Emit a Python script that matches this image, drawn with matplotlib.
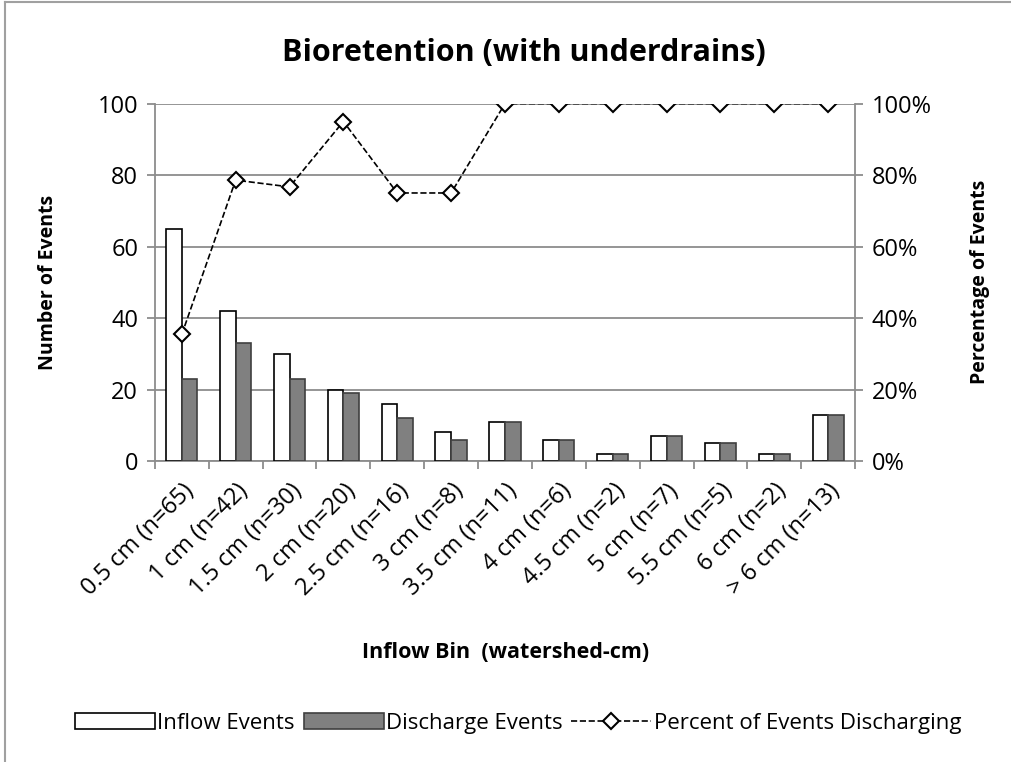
import matplotlib
matplotlib.use('Agg')
from matplotlib import pyplot as plt
from matplotlib.lines import Line2D
from matplotlib.ticker import PercentFormatter
import numpy as np

plt.rcParams['font.family'] = ['Open Sans', 'DejaVu Sans']

bins = ['0.5 cm (n=65)', '1 cm (n=42)', '1.5 cm (n=30)', '2 cm (n=20)',
        '2.5 cm (n=16)', '3 cm (n=8)', '3.5 cm (n=11)', '4 cm (n=6)',
        '4.5 cm (n=2)', '5 cm (n=7)', '5.5 cm (n=5)', '6 cm (n=2)', '> 6 cm (n=13)']
inflow = [65, 42, 30, 20, 16, 8, 11, 6, 2, 7, 5, 2, 13]
discharge = [23, 33, 23, 19, 12, 6, 11, 6, 2, 7, 5, 2, 13]
percent = [35.4, 78.6, 76.7, 95.0, 75.0, 75.0, 100, 100, 100, 100, 100, 100, 100]

grid_col = '#8c8c8c'
x = np.arange(len(bins))
w = 0.29
fs = 17

fig = plt.figure(figsize=(10.12, 7.62), dpi=100)
ax = fig.add_axes([0.153, 0.395, 0.692, 0.469])

ax.bar(x - w / 2, inflow, w, color='white', edgecolor='black', linewidth=1.2,
       label='Inflow Events', zorder=3)
ax.bar(x + w / 2, discharge, w, color='#808080', edgecolor='#404040', linewidth=1.2,
       label='Discharge Events', zorder=3)

ax.set_xlim(-0.5, len(bins) - 0.5)
ax.set_ylim(0, 100)
ax.set_yticks(range(0, 101, 20))
ax.yaxis.grid(True, color=grid_col, linewidth=1.3)
ax.set_axisbelow(True)
for s in ['top', 'right']:
    ax.spines[s].set_visible(False)
for s in ['left', 'bottom']:
    ax.spines[s].set_color(grid_col)
    ax.spines[s].set_linewidth(1.3)

# category boundaries as tick marks, labels in the middle
ax.set_xticks(np.arange(-0.5, len(bins), 1))
ax.set_xticklabels([])
ax.set_xticks(x, minor=True)
ax.set_xticklabels(bins, minor=True, rotation=45, ha='right', rotation_mode='anchor',
                   fontsize=fs)
ax.tick_params(axis='x', which='minor', length=0, pad=13)
ax.tick_params(axis='x', which='major', length=6, width=1.3, color=grid_col)
ax.tick_params(axis='y', length=6, width=1.3, color=grid_col, labelsize=fs, pad=6)

ax2 = ax.twinx()
ax2.plot(x, percent, color='black', linestyle='--', linewidth=1.2, marker='D',
         markersize=8, markerfacecolor='white', markeredgecolor='black',
         markeredgewidth=1.5, label='Percent of Events Discharging', zorder=4)
ax2.set_ylim(0, 100)
ax2.set_yticks(range(0, 101, 20))
ax2.yaxis.set_major_formatter(PercentFormatter(decimals=0))
for s in ['top', 'left', 'bottom']:
    ax2.spines[s].set_visible(False)
ax2.spines['right'].set_color(grid_col)
ax2.spines['right'].set_linewidth(1.3)
ax2.tick_params(axis='y', length=6, width=1.3, color=grid_col, labelsize=fs, pad=6)

fig.text(0.518, 0.93, 'Bioretention (with underdrains)', ha='center', va='center',
         fontsize=22, fontweight='bold')
fig.text(0.047, 0.63, 'Number of Events', rotation=90, ha='center', va='center',
         fontsize=14, fontweight='bold')
fig.text(0.968, 0.63, 'Percentage of Events', rotation=90, ha='center', va='center',
         fontsize=14, fontweight='bold')
fig.text(0.5, 0.144, 'Inflow Bin  (watershed-cm)', ha='center', va='center',
         fontsize=15.5, fontweight='bold')

h1, l1 = ax.get_legend_handles_labels()
h2, l2 = ax2.get_legend_handles_labels()
fig.legend(h1 + h2, l1 + l2, loc='center', bbox_to_anchor=(0.512, 0.051), ncol=3,
           frameon=False, fontsize=16, handlelength=3.6, handleheight=0.7,
           handletextpad=0.1, columnspacing=0.4)

# outer chart border (top and left visible)
fig.add_artist(Line2D([0.005, 0.005], [0, 0.997], color='#a0a0a0', linewidth=1.5))
fig.add_artist(Line2D([0.005, 1], [0.997, 0.997], color='#a0a0a0', linewidth=1.5))

fig.savefig('out.png', dpi=100)
